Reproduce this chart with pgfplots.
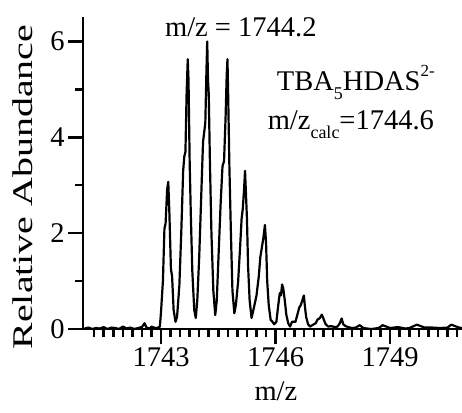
\documentclass[border=0pt]{standalone}
\usepackage{fontspec}
\setmainfont{Liberation Serif}
\usepackage{pgfplots}
\pgfplotsset{compat=1.18}
\definecolor{tk}{rgb}{0.02,0.02,0.02}
\pgfplotstableread{
x y
1741.00 0.01
1741.10 0.03
1741.20 0.00
1741.30 0.02
1741.40 0.01
1741.50 0.04
1741.60 0.00
1741.70 0.03
1741.80 0.02
1741.90 0.00
1742.00 0.05
1742.10 0.01
1742.20 0.03
1742.30 0.00
1742.40 0.02
1742.50 0.04
1742.57 0.12
1742.62 0.03
1742.70 0.01
1742.75 0.05
1742.85 0.02
1742.90 0.02
1742.97 0.05
1743.00 0.35
1743.05 1.00
1743.09 2.10
1743.12 2.20
1743.16 2.90
1743.19 3.07
1743.22 2.40
1743.26 1.25
1743.29 1.10
1743.33 0.40
1743.38 0.15
1743.42 0.25
1743.48 0.90
1743.53 2.00
1743.58 3.30
1743.61 3.60
1743.64 3.70
1743.67 4.90
1743.70 5.63
1743.72 5.20
1743.75 3.50
1743.78 2.40
1743.82 1.20
1743.87 0.40
1743.91 0.23
1743.95 0.60
1744.00 1.50
1744.05 2.70
1744.10 3.90
1744.13 4.10
1744.16 4.30
1744.19 5.40
1744.21 6.00
1744.23 5.20
1744.25 4.90
1744.28 3.50
1744.32 2.00
1744.37 0.80
1744.42 0.29
1744.46 0.60
1744.51 1.60
1744.56 2.60
1744.61 3.40
1744.65 3.50
1744.69 4.40
1744.72 5.30
1744.74 5.63
1744.76 4.80
1744.79 3.40
1744.83 2.00
1744.87 0.80
1744.92 0.33
1744.96 0.50
1745.02 1.00
1745.07 1.70
1745.11 2.30
1745.14 2.50
1745.17 2.85
1745.20 3.30
1745.22 2.90
1745.25 2.30
1745.28 1.30
1745.32 0.60
1745.37 0.23
1745.42 0.40
1745.50 0.70
1745.56 1.10
1745.60 1.50
1745.64 1.70
1745.68 1.90
1745.72 2.17
1745.75 1.80
1745.78 1.00
1745.82 0.50
1745.87 0.19
1745.92 0.15
1745.96 0.10
1746.02 0.15
1746.07 0.50
1746.11 0.75
1746.14 0.70
1746.17 0.93
1746.20 0.85
1746.24 0.60
1746.28 0.30
1746.33 0.12
1746.38 0.05
1746.43 0.15
1746.52 0.15
1746.57 0.30
1746.62 0.45
1746.66 0.50
1746.70 0.60
1746.74 0.70
1746.77 0.45
1746.80 0.25
1746.85 0.10
1746.90 0.05
1746.96 0.08
1747.05 0.12
1747.10 0.20
1747.15 0.22
1747.21 0.30
1747.26 0.20
1747.31 0.10
1747.38 0.05
1747.45 0.06
1747.55 0.04
1747.62 0.05
1747.68 0.12
1747.73 0.22
1747.77 0.10
1747.83 0.06
1747.90 0.04
1748.00 0.02
1748.10 0.03
1748.20 0.08
1748.30 0.02
1748.50 0.00
1748.70 0.02
1748.80 0.08
1749.00 0.02
1749.20 0.04
1749.40 0.01
1749.50 0.02
1749.70 0.09
1749.90 0.03
1750.10 0.03
1750.30 0.02
1750.50 0.03
1750.60 0.09
1750.80 0.03
1750.88 0.02
}\spec
\newcommand{\lowsub}[1]{\raisebox{-0.32em}{\fontsize{18}{18}\selectfont #1}}
\newcommand{\highsup}[1]{\raisebox{0.5em}{\fontsize{17}{17}\selectfont #1}}
\begin{document}
\begin{tikzpicture}
\path[use as bounding box] (-83pt,-83pt) rectangle (379pt,329pt);
\begin{axis}[
 at={(0pt,0pt)}, anchor=south west,
 scale only axis, width=379pt, height=312pt,
 xmin=1740.958, xmax=1750.88, ymin=0, ymax=6.51,
 axis x line=bottom, axis y line=left,
 axis line style={-, line width=2pt},
 tick align=outside,
 xtick={1743,1746,1749}, ytick={0,2,4,6},
 minor xtick={1741.25,1741.5,...,1750.8},
 minor ytick={1,3,5},
 major tick length=15pt, minor tick length=8pt,
 tick style={line width=2.5pt, draw=tk},
 ticklabel style={font=\fontsize{28.5}{30}\selectfont},
 /pgf/number format/assume math mode=true,
 /pgf/number format/set thousands separator={},
 clip=false,
]
\addplot[black, line width=2.2pt, line join=round] table[x=x,y=y] {\spec};
\node[font=\fontsize{28.5}{32}\selectfont] at (axis description cs:0.509,-0.199) {m/z};
\node[font=\fontsize{28.5}{32}\selectfont, rotate=90, xscale=1.4] at (axis description cs:-0.158,0.455) {Relative Abundance};
\node[font=\fontsize{28.5}{32}\selectfont] at (axis cs:1745.09,6.30) {m/z = 1744.2};
\node[font=\fontsize{28.5}{32}\selectfont] at (axis cs:1748.10,5.14) {TBA\lowsub{5}HDAS\highsup{2-}};
\node[font=\fontsize{28.5}{32}\selectfont] at (axis cs:1747.97,4.26) {m/z\lowsub{calc}=1744.6};
\end{axis}
\end{tikzpicture}
\end{document}
